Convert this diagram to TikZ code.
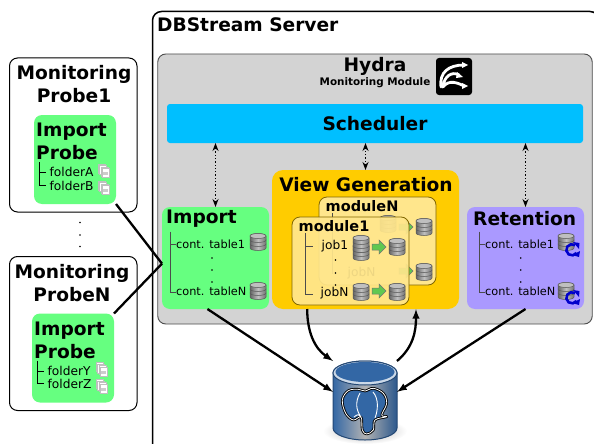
\documentclass[tikz,border=0pt]{standalone}
\usepackage{fontspec}
\setmainfont{DejaVu Sans}
\usepackage{xcolor}
\usetikzlibrary{calc,arrows.meta}
\tikzset{>=latex}
\definecolor{importcol}{RGB}{102,255,128}
\definecolor{schedcol}{RGB}{0,191,255}
\definecolor{viewcol}{RGB}{255,204,0}
\definecolor{modcol}{RGB}{255,230,140}
\definecolor{retcol}{RGB}{170,153,255}
\definecolor{hydracol}{RGB}{211,211,211}
\definecolor{pgblue}{RGB}{51,103,165}
\definecolor{arrowcol}{RGB}{96,200,80}
\tikzstyle{panel}=[inner sep=0,rounded corners=8,outer sep=0]
\tikzstyle{title}=[inner sep=0,font=\fontsize{18.6}{23}\bfseries\selectfont]
\tikzstyle{item}=[inner sep=0,anchor=west,font=\fontsize{12.2}{14}\selectfont]
\tikzstyle{contitem}=[inner sep=0,anchor=west,font=\fontsize{11.3}{14}\selectfont]
\tikzstyle{tree}=[black!70,line width=0.9]
\tikzstyle{link}=[line width=2.3]
\tikzstyle{sync}=[{Stealth[length=8,width=6]}-{Stealth[length=8,width=6]},dotted,line width=1.3]
\tikzset{
  dbicon/.pic={
    \foreach \t in {2,-2,-6}{
      \draw[black!65,line width=0.5,left color=black!60,right color=black!55,middle color=black!25]
        (-8,\t) -- (-8,\t+4) arc[start angle=180,end angle=360,x radius=8pt,y radius=2.5pt]
        -- (8,\t) arc[start angle=0,end angle=180,x radius=8pt,y radius=2.5pt] -- cycle;
    }
    \draw[black!65,line width=0.5,fill=black!25] (0,-6) circle[x radius=8pt,y radius=2.5pt];
  },
  fileicon/.pic={
    \foreach \d in {-3,-1.5,0,1.5}{
      \draw[black!25,line width=0.4,fill=white] (\d-3,\d-4) rectangle (\d+4,\d+5);
    }
    \fill[black!20] (-1,1) rectangle (4,4);
  },
  flowarrow/.pic={
    \draw[black!55,line width=0.5,fill=arrowcol]
      (-7,-3) -- (0,-3) -- (0,-7) -- (7,0) -- (0,7) -- (0,3) -- (-7,3) -- cycle;
  },
  refresh/.pic={
    \draw[blue!80!black,line width=2.6] (4.5,3) arc[start angle=-35,end angle=-305,radius=5.6pt];
    \fill[blue!80!black] (1,-8) -- (7.5,-7) -- (7,-1) -- cycle;
    \fill[blue!80!black] (0,5) -- (8,1) -- (7,7) -- cycle;
  }
}

\begin{document}
\begin{tikzpicture}[x=1pt,y=-1pt]
  \useasboundingbox (0,0) rectangle (594,444);
  % server and module frames
  \draw[line width=1.5,rounded corners=9] (152.5,444) -- (152.5,11.5) -- (599,11.5) -- (599,40);
  \node[anchor=west,title] (server) at (157,25) {DBStream Server};
  \node[panel,draw=black!70,line width=0.9,fill=hydracol,minimum width=434.5,minimum height=270] (hydra) at (375,189) {};
  \node[title] (hydratitle) at (375,66) {Hydra};
  \node[inner sep=0,font=\fontsize{10.4}{12}\bfseries\selectfont] (hydrasub) at (375,83) {Monitoring Module};
  \node[fill=black,rounded corners=3,minimum width=36,minimum height=37,inner sep=0] (logo) at (454,76.5) {};
  \draw[white,line width=2.8,line cap=round]
    (441,87) .. controls (439,72) and (449,65) .. (464,65)
    (443,87) .. controls (444,76) and (452,71) .. (459,75)
    (443,87) .. controls (449,79) and (458,83) .. (464,86);
  \fill[white] (462,62) -- (468,65) -- (462,68) -- cycle
    (457,72) -- (463,77) -- (456,78) -- cycle
    (462,83) -- (468,86) -- (462,89) -- cycle;
  \node[panel,rounded corners=3,fill=schedcol,minimum width=416,minimum height=39] (scheduler) at (375,123.5) {};
  \node[title] (schedtitle) at (375,123.5) {Scheduler};

  % probes on the left
  \foreach \n/\ox/\oy/\mid/\fa/\fb in {one/0/0/Probe1/folderA/folderB,two/-2/198.5/ProbeN/folderY/folderZ}{
    \begin{scope}[shift={(\ox,\oy)}]
      \node[panel,draw=black,line width=1,fill=white,minimum width=127.5,minimum height=154] (probe\n) at ({73.25-\ox},135) {};
      \node[panel,fill=importcol,minimum width=82,minimum height=89] (importprobe\n) at (75,159.5) {};
      \node[title,align=center] (probetitle\n) at (74,84.5) {Monitoring\\\mid};
      \node[title,align=left,anchor=west] (probelabel\n) at (36,141.5) {Import\\Probe};
      \draw[tree,black] (39.5,162) -- (39.5,185) -- (46,185) (39.5,172.5) -- (46,172.5);
      \node[item] (foldera\n) at (49.5,172) {\fa};
      \node[item] (folderb\n) at (49.5,185.5) {\fb};
      \pic at (104,171) {fileicon};
      \pic at (104,188) {fileicon};
    \end{scope}
  }
  \foreach \y in {222.5,235,246.5}{
    \fill (80,\y) circle (0.9);
  }

  % import and retention boxes
  \node[panel,fill=importcol,minimum width=107,minimum height=102] (import) at (215.5,258) {};
  \node[panel,fill=retcol,minimum width=117,minimum height=102] (retention) at (525.5,258) {};
  \node[title,anchor=west] (importtitle) at (166,219) {Import};
  \node[title,anchor=west] (rettitle) at (473,219) {Retention};
  \foreach \n/\bx/\tx/\dx/\cx in {imp/170.7/176/212/258,ret/479/485/520.7/566}{
    \draw[tree] (\bx,231.5) -- (\bx,292.5) -- (\tx,292.5) (\bx,244) -- (\tx,244);
    \node[contitem] (cont\n a) at (\tx,244) {cont. table1};
    \node[contitem] (cont\n b) at (\tx,291.5) {cont. tableN};
    \foreach \y in {258,270,282}{
      \fill (\dx,\y) circle (0.9);
    }
    \pic at (\cx,242) {dbicon};
    \pic at (\cx,291) {dbicon};
  }
  \pic at (572,250) {refresh};
  \pic at (572,298) {refresh};

  % view generation with the stacked modules
  \node[panel,rounded corners=11,fill=viewcol,minimum width=187,minimum height=139] (view) at (365.5,239.5) {};
  \node[title] (viewtitle) at (366,184.5) {View Generation};
  \begin{scope}[shift={(27,-20)}]
    \node[panel,draw=black!50!viewcol,line width=0.8,fill=modcol,minimum width=117,minimum height=88] (moduleN) at (350.5,261) {};
    \node[inner sep=0,anchor=west,font=\fontsize{14.5}{16}\bfseries\selectfont] (modtitleN) at (298.5,226) {moduleN};
    \draw[tree] (305.5,233) -- (305.5,294);
    \node[item] (jobnN) at (320.5,293.5) {jobN};
    \pic at (361,244) {dbicon};
    \pic at (397,247) {dbicon};
    \pic at (397,292) {dbicon};
    \pic at (379,247) {flowarrow};
    \pic at (379,291) {flowarrow};
  \end{scope}
  \node[panel,draw=black!50!viewcol,line width=0.8,fill=modcol,fill opacity=0.93,minimum width=117,minimum height=88] (moduleOne) at (350.5,261) {};
  \node[inner sep=0,anchor=west,font=\fontsize{14.5}{16}\bfseries\selectfont] (modtitleOne) at (298.5,226) {module1};
  \draw[tree] (305.5,233) -- (305.5,294) -- (313,294) (305.5,246) -- (313,246);
  \node[item] (joboneOne) at (321.5,246) {job1};
  \node[item] (jobnOne) at (320.5,293.5) {jobN};
  \foreach \y in {260,273,285}{
    \fill (335.5,\y) circle (0.8);
  }
  \pic at (361,252) {dbicon};
  \pic at (361,244) {dbicon};
  \pic at (397,247) {dbicon};
  \pic at (361,292) {dbicon};
  \pic at (397,292) {dbicon};
  \pic at (379,247) {flowarrow};
  \pic at (379,291) {flowarrow};

  % postgres cylinder
  \shade[inner color=black!30,outer color=white] (365,431) circle[x radius=42pt,y radius=13pt];
  \node[minimum width=64,minimum height=79,inner sep=0,outer sep=0] (db) at (365,400.5) {};
  \draw[pgblue!70!black,line width=1,left color=pgblue,right color=pgblue!85!black,middle color=black!30]
    (333,373) -- (333,428) arc[start angle=180,end angle=360,x radius=32pt,y radius=12pt]
    -- (397,373) arc[start angle=0,end angle=180,x radius=32pt,y radius=12pt] -- cycle;
  \draw[pgblue!70!black,line width=1,fill=white!75!pgblue] (365,373) circle[x radius=32pt,y radius=12pt];
  \fill[pgblue] (365,372) circle[x radius=29.5pt,y radius=10pt];
  \draw[black,line width=0.9,double=white,double distance=0.8,fill=pgblue,line join=round]
    plot[smooth cycle,tension=0.6] coordinates {(342.3,400) (348.3,390.7) (358.3,389.3) (365,391) (373.3,388.3)
      (383.3,393.3) (386.7,403.3) (381.7,415) (386.7,416.7) (375,420) (373.3,430) (366.7,434) (362.3,430) (361,417)
      (353.3,420) (345.7,413.3)};
  \draw[white,line width=0.9]
    (360,393) .. controls (355,402) and (356,410) .. (361,417)
    (373,392) .. controls (379,399) and (378,410) .. (375,418)
    (361,417) .. controls (358,414) and (358,414) .. (354,417);

  % connectors
  \draw[link] (importprobeone.south east) -- (import.186);
  \draw[link] (importprobetwo.north east) -- (import.186);
  \draw[sync] (import.north) -- (import.north |- scheduler.south);
  \draw[sync] (view.north) -- (view.north |- scheduler.south);
  \draw[sync] (retention.north) -- (retention.north |- scheduler.south);
  \draw[link,->] (import.-99) -- (db.165);
  \draw[link,->] (retention.south) -- (db.15);
  \draw[link,->] (view.-130) to[out=-90,in=145] (db.north west);
  \draw[link,->] (db.north east) to[out=40,in=-90] (view.-54);
\end{tikzpicture}
\end{document}
